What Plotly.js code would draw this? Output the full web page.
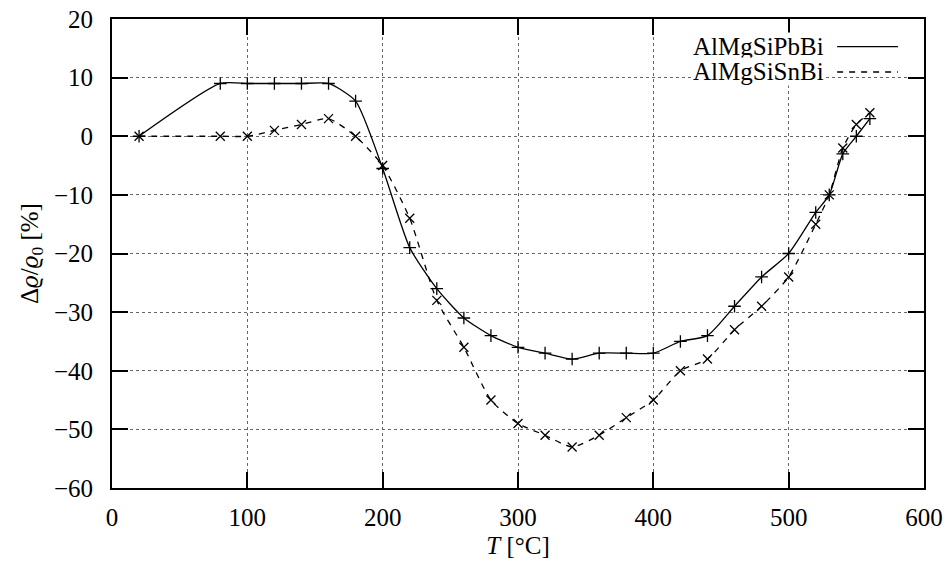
<!DOCTYPE html>
<html>
<head>
<meta charset="utf-8">
<script src="https://cdn.plot.ly/plotly-3.0.1.min.js"></script>
<style>html,body{margin:0;padding:0;background:#fff;}#chart{width:947px;height:568px;}</style>
</head>
<body>
<div id="chart"></div>
<script>
const temperature = [20, 80, 100, 120, 140, 160, 180, 200, 220, 240, 260, 280, 300, 320, 340, 360, 380, 400, 420, 440, 460, 480, 500, 520, 530, 540, 550, 560];
const pbBi = [0, 9, 9, 9, 9, 9, 6, -5.5, -19, -26, -31, -34, -36, -37, -38, -37, -37, -37, -35, -34, -29, -24, -20, -13, -10, -3, 0, 3];
const snBi = [0, 0, 0, 1, 2, 3, 0, -5, -14, -28, -36, -45, -49, -51, -53, -51, -48, -45, -40, -38, -33, -29, -24, -15, -10, -2, 2, 4];
const seriesNames = ['AlMgSiPbBi', 'AlMgSiSnBi'];
const xTicks = [0, 100, 200, 300, 400, 500, 600];
const yTicks = [20, 10, 0, -10, -20, -30, -40, -50, -60];

const FONT = 'Liberation Serif, Times New Roman, serif';

const traces = [
  {x: temperature, y: pbBi, mode: 'lines', line: {color: '#000', width: 1.3, shape: 'spline', smoothing: 0.6}, showlegend: false, hoverinfo: 'skip'},
  {x: temperature, y: pbBi, mode: 'markers', marker: {symbol: 'cross-thin', size: 9, color: '#000', line: {color: '#000', width: 1.3}}, showlegend: false},
  {x: temperature, y: snBi, mode: 'lines', line: {color: '#000', width: 1.3, dash: '6px,6px', shape: 'spline', smoothing: 0.6}, showlegend: false, hoverinfo: 'skip'},
  {x: temperature, y: snBi, mode: 'markers', marker: {symbol: 'x-thin', size: 9, color: '#000', line: {color: '#000', width: 1.3}}, showlegend: false}
];

function axisCommon() {
  return {
    showline: true, linecolor: '#000', linewidth: 2, mirror: 'ticks',
    ticks: 'inside', ticklen: 16, tickwidth: 2, tickcolor: '#000',
    showgrid: true, gridcolor: '#666', griddash: 'dot', gridwidth: 1,
    zeroline: false, tickfont: {family: FONT, size: 25, color: '#000'}
  };
}

const layout = {
  width: 947, height: 568,
  margin: {l: 112, r: 23, t: 19, b: 80},
  paper_bgcolor: '#fff', plot_bgcolor: '#fff',
  font: {family: FONT, size: 25, color: '#000'},
  showlegend: false,
  xaxis: Object.assign(axisCommon(), {
    range: [0, 600], tickvals: xTicks, ticktext: xTicks.map(String),
    ticklabelstandoff: 6,
    title: {text: '<i>T</i> [°C]', font: {family: FONT, size: 25, color: '#000'}, standoff: 6}
  }),
  yaxis: Object.assign(axisCommon(), {
    range: [-60, 20], tickvals: yTicks, ticktext: yTicks.map(v => v < 0 ? '\u2212' + Math.abs(v) : String(v)),
    ticklabelstandoff: 12,
    title: {text: 'Δ<i>ϱ</i>/<i>ϱ</i><sub>0</sub> [%]', font: {family: FONT, size: 25, color: '#000'}, standoff: 8}
  }),
  annotations: [
    {text: seriesNames[0], xref: 'paper', yref: 'paper', x: 0.878, y: 0.941, xanchor: 'right', yanchor: 'middle', showarrow: false, borderpad: 0, font: {family: FONT, size: 25, color: '#000'}, bgcolor: '#fff'},
    {text: seriesNames[1], xref: 'paper', yref: 'paper', x: 0.878, y: 0.887, xanchor: 'right', yanchor: 'middle', showarrow: false, borderpad: 0, font: {family: FONT, size: 25, color: '#000'}, bgcolor: '#fff'}
  ],
  shapes: [
    {type: 'line', xref: 'paper', yref: 'paper', x0: 0.893, x1: 0.968, y0: 0.941, y1: 0.941, line: {color: '#000', width: 1.3}},
    {type: 'line', xref: 'paper', yref: 'paper', x0: 0.893, x1: 0.968, y0: 0.887, y1: 0.887, line: {color: '#000', width: 1.3, dash: '6px,6px'}}
  ]
};

Plotly.newPlot('chart', traces, layout, {displayModeBar: false, staticPlot: true});
</script>
</body>
</html>
